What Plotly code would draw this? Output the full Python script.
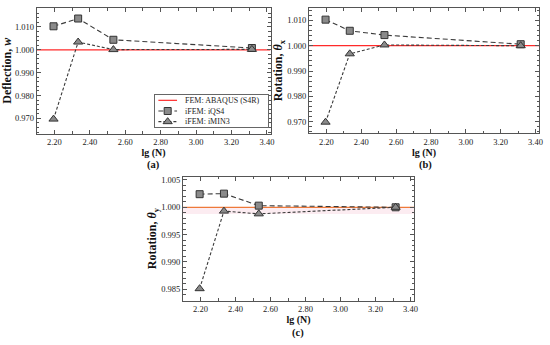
import plotly.graph_objects as go

# ---- data ----
lgN = [2.195, 2.334, 2.533, 3.315]
ref_value = 1.0

defl_iqs4 = [1.0103, 1.0137, 1.0044, 1.0008]
defl_imin3 = [0.9697, 1.0034, 1.0001, 1.0002]

rotx_iqs4 = [1.0103, 1.0059, 1.0042, 1.0006]
rotx_imin3 = [0.9698, 0.9968, 1.0003, 1.0000]

roty_iqs4 = [1.0024, 1.0025, 1.0003, 1.0000]
roty_imin3 = [0.9851, 0.9993, 0.9988, 1.0000]

x_ticks = [2.2, 2.4, 2.6, 2.8, 3.0, 3.2, 3.4]
x_range = [2.1, 3.42]

legend_labels = ["FEM: ABAQUS (S4R)", "iFEM: iQS4", "iFEM: iMIN3"]

FONT = "Liberation Serif"
W, H = 550, 345

fig = go.Figure()

def px_x(a, b):
    return [a / W, b / W]

def px_y(top, bot):
    return [1 - bot / H, 1 - top / H]

panels = [
    dict(xa="x", ya="y", xdom=px_x(36.7, 270.5), ydom=px_y(8, 133.5),
         yr=[0.9634, 1.0183], dt=0.01, mdt=0.002,
         ytitle="<b>Deflection, <i>w</i></b>", s1=defl_iqs4, s2=defl_imin3,
         label="(a)", lab_xy=(153, 165), refcol="#ff2a2a"),
    dict(xa="x2", ya="y2", xdom=px_x(309, 539), ydom=px_y(8, 133.3),
         yr=[0.9654, 1.0149], dt=0.01, mdt=0.002,
         ytitle="<b>Rotation, <i>θ</i><sub>x</sub></b>", s1=rotx_iqs4, s2=rotx_imin3,
         label="(b)", lab_xy=(425, 165), refcol="#ff2a2a"),
    dict(xa="x3", ya="y3", xdom=px_x(183, 414), ydom=px_y(176.7, 300.7),
         yr=[0.9829, 1.0056], dt=0.005, mdt=0.001,
         ytitle="<b>Rotation, <i>θ</i><sub>y</sub></b>", s1=roty_iqs4, s2=roty_imin3,
         label="(c)", lab_xy=(298, 333), refcol="#ee7a3a"),
]

line_col = "#3a3a3a"
marker_fill = "#8a8a8a"
ref_width = 1.2
iqs4_dash = "5px,3px"
imin3_dash = "3px,2px"
sq_marker = dict(symbol="square", size=7, color=marker_fill,
                 line=dict(color="#333333", width=1))
tri_marker = dict(symbol="triangle-up", size=8, color=marker_fill,
                  line=dict(color="#333333", width=1))

axis_common = dict(
    showline=True, linecolor="#555555", linewidth=1, mirror="ticks",
    ticks="inside", ticklen=4, tickcolor="#555555", tickwidth=1,
    showgrid=False, zeroline=False, automargin=False,
    ticklabeloverflow="allow",
    tickfont=dict(family=FONT, size=8.5, color="#222222"),
)

for i, p in enumerate(panels):
    if i == 2:
        # faint pink band seen just below the reference line in panel (c)
        fig.add_shape(type="rect", xref="x3 domain", yref="y3",
                      x0=0, x1=1, y0=0.99875, y1=ref_value,
                      fillcolor="rgba(245,200,215,0.35)", line=dict(width=0),
                      layer="below")
    fig.add_trace(go.Scatter(
        x=x_range, y=[ref_value, ref_value], xaxis=p["xa"], yaxis=p["ya"],
        mode="lines", line=dict(color=p["refcol"], width=ref_width),
        showlegend=False, hoverinfo="skip"))
    fig.add_trace(go.Scatter(
        x=lgN, y=p["s1"], xaxis=p["xa"], yaxis=p["ya"],
        mode="lines+markers",
        line=dict(color=line_col, width=1.1, dash=iqs4_dash),
        marker=sq_marker, name=legend_labels[1], showlegend=False))
    fig.add_trace(go.Scatter(
        x=lgN, y=p["s2"], xaxis=p["xa"], yaxis=p["ya"],
        mode="lines+markers",
        line=dict(color=line_col, width=1.1, dash=imin3_dash),
        marker=tri_marker, name=legend_labels[2], showlegend=False))

    xkey = "xaxis" if p["xa"] == "x" else "xaxis" + p["xa"][1:]
    ykey = "yaxis" if p["ya"] == "y" else "yaxis" + p["ya"][1:]
    fig.update_layout({
        xkey: dict(domain=p["xdom"], range=x_range, anchor=p["ya"],
                   tickvals=x_ticks, tickformat=".2f",
                   minor=dict(dtick=0.1, tick0=2.0, ticks="inside", ticklen=2.5,
                              tickcolor="#555555"),
                   title=dict(text="<b>lg (N)</b>", standoff=2,
                              font=dict(family=FONT, size=10, color="#111111")),
                   **axis_common),
        ykey: dict(domain=p["ydom"], range=p["yr"], anchor=p["xa"],
                   dtick=p["dt"], tick0=1.0, tickformat=".3f",
                   minor=dict(dtick=p["mdt"], tick0=1.0, ticks="inside", ticklen=2.5,
                              tickcolor="#555555"),
                   title=dict(text=p["ytitle"], standoff=1,
                              font=dict(family=FONT, size=12, color="#111111")),
                   **axis_common),
    })
    fig.add_annotation(
        text="<b>" + p["label"] + "</b>", xref="paper", yref="paper",
        x=p["lab_xy"][0] / W, y=1 - p["lab_xy"][1] / H,
        showarrow=False, xanchor="center", yanchor="middle",
        font=dict(family=FONT, size=10.5, color="#111111"))

# ---- custom compact legend box inside panel (a) ----
leg_rows = [2.5, 1.5, 0.5]
leg_line_x = [0.03, 0.195]
leg_mark_x = [0.112]
fig.update_layout(
    xaxis4=dict(domain=px_x(155, 268), range=[0, 1], anchor="y4",
                showline=True, mirror=True, linecolor="#666666", linewidth=1,
                showticklabels=False, ticks="", showgrid=False, zeroline=False,
                fixedrange=True),
    yaxis4=dict(domain=px_y(95, 127), range=[0, 3], anchor="x4",
                showline=True, mirror=True, linecolor="#666666", linewidth=1,
                showticklabels=False, ticks="", showgrid=False, zeroline=False,
                fixedrange=True),
)
fig.add_trace(go.Scatter(x=leg_line_x, y=[leg_rows[0]] * 2, xaxis="x4", yaxis="y4",
                         mode="lines", line=dict(color="#ff2a2a", width=ref_width),
                         showlegend=False, hoverinfo="skip"))
fig.add_trace(go.Scatter(x=leg_line_x, y=[leg_rows[1]] * 2, xaxis="x4", yaxis="y4",
                         mode="lines", line=dict(color=line_col, width=1.1, dash=iqs4_dash),
                         showlegend=False, hoverinfo="skip"))
fig.add_trace(go.Scatter(x=leg_mark_x, y=[leg_rows[1]], xaxis="x4", yaxis="y4",
                         mode="markers", marker=sq_marker,
                         showlegend=False, hoverinfo="skip"))
fig.add_trace(go.Scatter(x=leg_line_x, y=[leg_rows[2]] * 2, xaxis="x4", yaxis="y4",
                         mode="lines", line=dict(color=line_col, width=1.1, dash=imin3_dash),
                         showlegend=False, hoverinfo="skip"))
fig.add_trace(go.Scatter(x=leg_mark_x, y=[leg_rows[2]], xaxis="x4", yaxis="y4",
                         mode="markers", marker=tri_marker,
                         showlegend=False, hoverinfo="skip"))
for lbl, row in zip(legend_labels, leg_rows):
    fig.add_annotation(text=lbl, xref="x4", yref="y4", x=0.25, y=row,
                       xanchor="left", yanchor="middle", showarrow=False,
                       font=dict(family=FONT, size=8, color="#222222"))

fig.update_layout(
    width=W, height=H,
    margin=dict(l=0, r=0, t=0, b=0, autoexpand=False),
    paper_bgcolor="white", plot_bgcolor="white",
    showlegend=False,
    font=dict(family=FONT),
)

fig.write_html(
    "out.html",
    config={"displayModeBar": False},
    post_script="document.body.style.margin='0px';document.body.style.overflow='hidden';",
)
